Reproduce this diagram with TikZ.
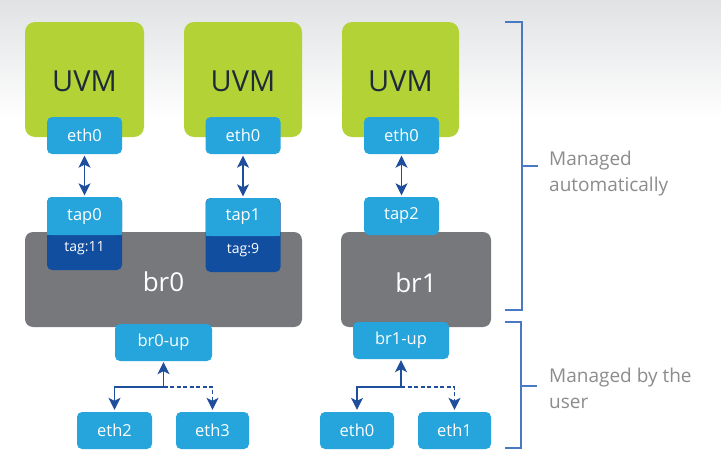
\documentclass[tikz,border=0pt]{standalone}
\usepackage{fontspec}
\setmainfont{Open Sans}
\usetikzlibrary{arrows.meta}
\definecolor{uvmgreen}{HTML}{B2D235}
\definecolor{lblue}{HTML}{25A5DC}
\definecolor{dblue}{HTML}{124EA0}
\definecolor{brgray}{HTML}{77787B}
\definecolor{arrcol}{HTML}{1F4E9C}
\definecolor{brkcol}{HTML}{4A78C2}
\definecolor{txtgray}{HTML}{8C8C8C}
\definecolor{uvmtxt}{HTML}{1E2A3A}
\definecolor{bgtop}{HTML}{E1E2E4}
\tikzset{
  uvmbox/.style={fill=uvmgreen, rounded corners=10pt, minimum width=118pt, minimum height=115pt, inner sep=0pt},
  uvmtext/.style={text=uvmtxt, font=\fontsize{29}{30}\selectfont},
  ifbox/.style={fill=lblue, rounded corners=5pt, minimum width=75pt, minimum height=37pt, inner sep=0pt, text=white, font=\fontsize{16.5}{18}\selectfont},
  tagbox/.style={fill=dblue, rounded corners=5pt, minimum width=75pt, inner sep=0pt},
  tagtext/.style={text=white, font=\fontsize{14}{15}\selectfont},
  brbox/.style={fill=brgray, rounded corners=8pt, minimum height=95pt, inner sep=0pt},
  brtext/.style={text=white, font=\fontsize{26}{28}\selectfont},
  arr/.style={draw=arrcol, line width=1.3pt, -{Stealth[length=12pt,width=12pt,inset=3pt]}},
  darr/.style={draw=arrcol, line width=1.3pt, {Stealth[length=12pt,width=12pt,inset=3pt]}-{Stealth[length=12pt,width=12pt,inset=3pt]}},
  dsh/.style={dash pattern=on 4pt off 2.5pt},
  brk/.style={draw=brkcol, line width=1.2pt},
  note/.style={text=txtgray, align=left, anchor=west, inner sep=0pt, font=\fontsize{19}{26}\selectfont},
}
\begin{document}
\begin{tikzpicture}[x=1pt, y=-1pt]
\useasboundingbox (0,0) rectangle (721,474);
% background
\fill[white] (0,0) rectangle (721,474);
\shade[top color=bgtop, bottom color=white] (0,0) rectangle (721,120);

% UVMs
\node[uvmbox, minimum width=119pt] (uvm1) at (84.5,79.5) {};
\node[uvmbox] (uvm2) at (243,79.5) {};
\node[uvmbox, minimum width=117pt] (uvm3) at (400.5,79.5) {};
\node[uvmtext] (uvmt1) at (84.5,81) {UVM};
\node[uvmtext] (uvmt2) at (243,81) {UVM};
\node[uvmtext] (uvmt3) at (400.5,81) {UVM};

\node[ifbox] (e1) at (84.5,135.5) {eth0};
\node[ifbox] (e2) at (243,135.5) {eth0};
\node[ifbox] (e3) at (401.5,135.5) {eth0};

% bridges
\node[brbox, minimum width=277pt] (br0) at (163.5,279.5) {};
\node[brtext] (br0t) at (163.5,282) {br0};
\node[brbox, minimum width=150pt] (br1) at (416,279.5) {};
\node[brtext] (br1t) at (416,283) {br1};

% taps with tags
\node[tagbox, minimum height=73pt] (tg0) at (84.5,233.5) {};
\node[tagbox, minimum height=74pt] (tg1) at (243,235) {};
\fill[lblue] (47,225) rectangle (122,235);
\fill[lblue] (206,226) rectangle (280,236);
\node[ifbox, minimum height=38pt] (t0) at (84.5,216) {tap0};
\node[ifbox, minimum width=74pt, minimum height=38pt] (t1) at (243,217) {tap1};
\node[tagtext] (tg0t) at (84.5,248.5) {tag:11};
\node[tagtext] (tg1t) at (243,250) {tag:9};
\node[ifbox, minimum height=38pt] (t2) at (401.5,216) {tap2};

\draw[darr, shorten <=1.5pt, shorten >=1.5pt] (e1.south) -- (t0.north);
\draw[darr, shorten <=1.5pt, shorten >=1.5pt] (e2.south) -- (t1.north);
\draw[darr, shorten <=1.5pt, shorten >=1.5pt] (e3.south) -- (t2.north);

% uplinks
\node[ifbox, minimum width=97pt] (b0u) at (163.5,342.5) {br0-up};
\node[ifbox, minimum width=96pt] (b1u) at (401,340.5) {br1-up};

\node[ifbox] (eth2) at (114.5,430.5) {eth2};
\node[ifbox, minimum width=73pt] (eth3) at (212.5,430.5) {eth3};
\node[ifbox, minimum width=74pt] (eth0b) at (357,430.5) {eth0};
\node[ifbox, minimum width=73pt] (eth1) at (454.5,430.5) {eth1};

\coordinate (j0) at (163.5,387);
\coordinate (j1) at (401,387);
\draw[arr, shorten >=1pt] (j0) -- (b0u.south);
\draw[arr, shorten >=2pt] (j0) -| (eth2.north);
\draw[arr, dsh, shorten >=2pt] (j0) -| (eth3.north);
\draw[arr, shorten >=1pt] (j1) -- (b1u.south);
\draw[arr, shorten >=2pt] (j1) -| (eth0b.north);
\draw[arr, dsh, shorten >=2pt] (j1) -| (eth1.north);

% brackets
\coordinate (ba1) at (505,22);
\coordinate (ba2) at (505,310);
\coordinate (bb1) at (505,322);
\coordinate (bb2) at (505,448);
\draw[brk] (ba1) -- (522,22) -- (522,310) -- (ba2);
\draw[brk] (522,166) -- (538,166);
\draw[brk] (bb1) -- (521,322) -- (521,448) -- (bb2);
\draw[brk] (521,386) -- (537,386);

\node[note] (n1) at (549,173.5) {Managed\\automatically};
\node[note] (n2) at (549,388) {Managed by the\\user};
\end{tikzpicture}
\end{document}
